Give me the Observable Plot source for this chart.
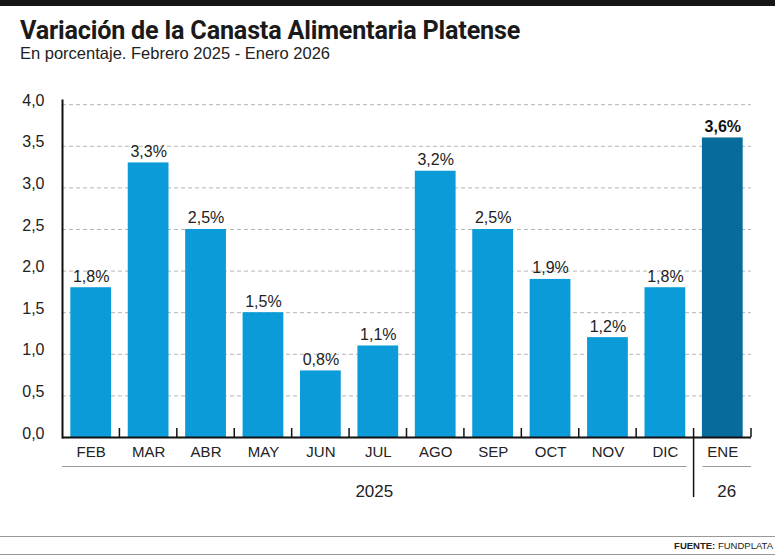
<!DOCTYPE html>
<html>
<head>
<meta charset="utf-8">
<script src="https://cdn.jsdelivr.net/npm/d3@7"></script>
<script src="https://cdn.jsdelivr.net/npm/@observablehq/plot@0.6"></script>
<style>
  html, body { margin: 0; padding: 0; background: #fff; }
  #wrap { position: relative; width: 775px; height: 556px; overflow: hidden; font-family: "Liberation Sans", Arial, sans-serif; color: #222; }
  #topbar { position: absolute; left: 0; top: 0; width: 775px; height: 6px; background: #161616; }
  #title { position: absolute; left: 20px; top: 16px; font-family: Roboto, sans-serif; font-size: 25.2px; font-weight: 700; color: #1a1a1a; white-space: nowrap; letter-spacing: -0.2px; }
  #subtitle { position: absolute; left: 20px; top: 44px; font-size: 16.5px; color: #222; white-space: nowrap; }
  #chart { position: absolute; left: 0; top: 80px; }
  #line1 { position: absolute; left: 0; top: 536px; width: 775px; height: 1px; background: #999; }
  #line2 { position: absolute; left: 0; top: 554px; width: 775px; height: 1px; background: #999; }
  #source { position: absolute; right: 2px; top: 540px; font-size: 9.5px; color: #222; white-space: nowrap; }
</style>
</head>
<body>
<div id="wrap">
  <div id="topbar"></div>
  <div id="title">Variación de la Canasta Alimentaria Platense</div>
  <div id="subtitle">En porcentaje. Febrero 2025 - Enero 2026</div>
  <div id="chart"></div>
  <div id="line1"></div>
  <div id="line2"></div>
  <div id="source"><b>FUENTE:</b> FUNDPLATA</div>
</div>
<script>
const months = ["FEB","MAR","ABR","MAY","JUN","JUL","AGO","SEP","OCT","NOV","DIC","ENE"];
const values = [1.8, 3.3, 2.5, 1.5, 0.8, 1.1, 3.2, 2.5, 1.9, 1.2, 1.8, 3.6];
const highlight = ["ENE"];
const yTicks = [0, 0.5, 1, 1.5, 2, 2.5, 3, 3.5, 4];
const groups = [
  {label: "2025", from: "FEB", to: "DIC"},
  {label: "26", from: "ENE", to: "ENE"}
];

const data = months.map((m, i) => ({month: m, value: values[i]}));
const fmt = v => v.toFixed(1).replace(".", ",");
const light = "#0b9bd9";
const dark = "#076b9b";
const font = "'Liberation Sans', Arial, sans-serif";

const plot = Plot.plot({
  width: 775,
  height: 430,
  marginTop: 20,
  marginBottom: 73,
  marginLeft: 62,
  marginRight: 24,
  style: {fontFamily: font, color: "#222", background: "transparent", overflow: "visible"},
  x: {type: "band", domain: months, paddingInner: 0.29, paddingOuter: 0.145, round: false, label: null},
  y: {domain: [0, 4.05], label: null},
  marks: [
    Plot.gridY(yTicks.filter(d => d > 0), {stroke: "#b5b5b5", strokeOpacity: 1, strokeDasharray: "4,3"}),
    Plot.barY(data.filter(d => !highlight.includes(d.month)), {x: "month", y: "value", fill: light}),
    Plot.barY(data.filter(d => highlight.includes(d.month)), {x: "month", y: "value", fill: dark}),
    Plot.text(data.filter(d => !highlight.includes(d.month)), {x: "month", y: "value", text: d => fmt(d.value) + "%", lineAnchor: "bottom", dy: -6, fontSize: 16, fill: "#222"}),
    Plot.text(data.filter(d => highlight.includes(d.month)), {x: "month", y: "value", text: d => fmt(d.value) + "%", lineAnchor: "bottom", dy: -6, fontSize: 16, fontWeight: "bold", fill: "#111"}),
    Plot.axisY({ticks: yTicks, tickFormat: fmt, tickSize: 0, tickPadding: 18, fontSize: 16, dy: -4, fill: "#222"}),
    Plot.axisX({tickSize: 0, tickPadding: 9, fontSize: 15, fill: "#222"}),
    Plot.frame({anchor: "left", stroke: "#111", strokeWidth: 2}),
    Plot.ruleY([0], {stroke: "#111", strokeWidth: 2})
  ]
});

document.getElementById("chart").appendChild(plot);

// Decorations below the axis, placed with the plot's own scales
const xs = plot.scale("x");
const ys = plot.scale("y");
const svg = d3.select(plot);
const base = ys.apply(0);
const gap = xs.step - xs.bandwidth;
const left = xs.range[0];
const right = xs.range[1];
const boundaryAfter = m => xs.apply(m) + xs.bandwidth + gap / 2;
const boundaryBefore = m => xs.apply(m) - gap / 2;

const g = svg.append("g").attr("stroke", "#111").attr("stroke-width", 1.5);
const groupEnds = groups.slice(0, -1).map(gr => gr.to);
months.slice(1).forEach(m => {
  const bx = boundaryBefore(m);
  const isGroupEdge = groupEnds.some(e => months.indexOf(e) + 1 === months.indexOf(m));
  g.append("line").attr("x1", bx).attr("x2", bx)
    .attr("y1", base - 9).attr("y2", isGroupEdge ? base + 60 : base);
});
g.append("line").attr("x1", right).attr("x2", right).attr("y1", base - 9).attr("y2", base);

groups.forEach((gr, i) => {
  const x0 = i === 0 ? left : boundaryBefore(gr.from) + 9;
  const x1 = i === groups.length - 1 ? right : boundaryAfter(gr.to) - 7;
  svg.append("line").attr("x1", x0).attr("x2", x1)
    .attr("y1", base + 29.5).attr("y2", base + 29.5)
    .attr("stroke", "#9a9a9a").attr("stroke-width", 1);
  svg.append("text").attr("x", (x0 + x1) / 2).attr("y", base + 60)
    .attr("text-anchor", "middle").attr("font-size", 17).attr("fill", "#222")
    .attr("font-family", font)
    .text(gr.label);
});
</script>
</body>
</html>
